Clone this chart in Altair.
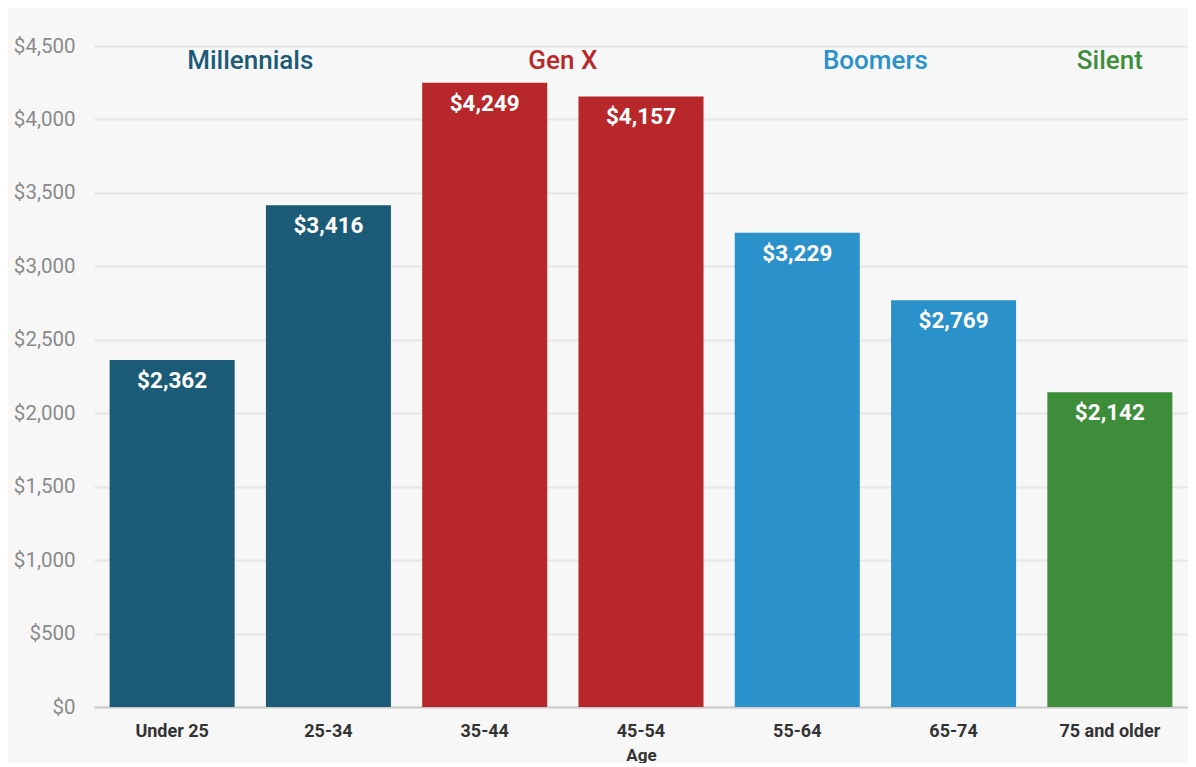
import altair as alt
import pandas as pd

ages = ["Under 25", "25-34", "35-44", "45-54", "55-64", "65-74", "75 and older"]
values = [2362, 3416, 4249, 4157, 3229, 2769, 2142]
generations = ["Millennials", "Millennials", "Gen X", "Gen X", "Boomers", "Boomers", "Silent"]

gen_names = ["Millennials", "Gen X", "Boomers", "Silent"]
gen_colors = ["#1b5b77", "#b8282a", "#2a91ca", "#3d8d3b"]

W = 1094
H = 661
step = W / len(ages)

df = pd.DataFrame({"age": ages, "value": values, "gen": generations})

FONT = "Roboto"

x = alt.X("age:N", sort=ages, title="Age",
          scale=alt.Scale(paddingInner=0.2, paddingOuter=0.1),
          axis=alt.Axis(labelAngle=0, labelFontSize=18, labelFontWeight="bold",
                        labelColor="#333333", labelPadding=15, ticks=False,
                        domainColor="#cccccc", domainWidth=2,
                        titleFontSize=17, titleFontWeight="bold", titleColor="#333333",
                        titlePadding=7))
y = alt.Y("value:Q", title=None,
          scale=alt.Scale(domain=[0, 4500]),
          axis=alt.Axis(values=list(range(0, 4501, 500)), format="$,.0f",
                        labelFontSize=20.5, labelColor="#8a8a8a", labelPadding=19,
                        ticks=False, domain=False, gridColor="#e6e6e6", gridWidth=2))

color = alt.Color("gen:N", scale=alt.Scale(domain=gen_names, range=gen_colors), legend=None)

bars = alt.Chart(df).mark_bar().encode(x=x, y=y, color=color)

labels = alt.Chart(df).mark_text(
    baseline="top", dy=10, color="white", fontSize=22.5, fontWeight="bold", font=FONT
).encode(x=alt.X("age:N", sort=ages), y="value:Q", text=alt.Text("value:Q", format="$,.0f"))

layers = [bars, labels]
for g, c in zip(gen_names, gen_colors):
    members = [a for a, gg in zip(ages, generations) if gg == g]
    n = len(members)
    gdf = pd.DataFrame({"age": [members[0]], "gen": [g]})
    layers.append(
        alt.Chart(gdf).mark_text(
            fontSize=26, fontWeight=500, font=FONT, color=c, baseline="middle",
            dx=(n - 1) * step / 2
        ).encode(x=alt.X("age:N", sort=ages), y=alt.value(15), text="gen:N")
    )

chart = alt.layer(*layers).properties(
    width=W, height=H, background="#f7f7f7",
    padding={"left": 5, "top": 28, "right": 0, "bottom": 0}
).configure_view(stroke=None).configure_axis(labelFont=FONT, titleFont=FONT)

chart.save("out.html", embed_options={"renderer": "svg", "actions": False})
